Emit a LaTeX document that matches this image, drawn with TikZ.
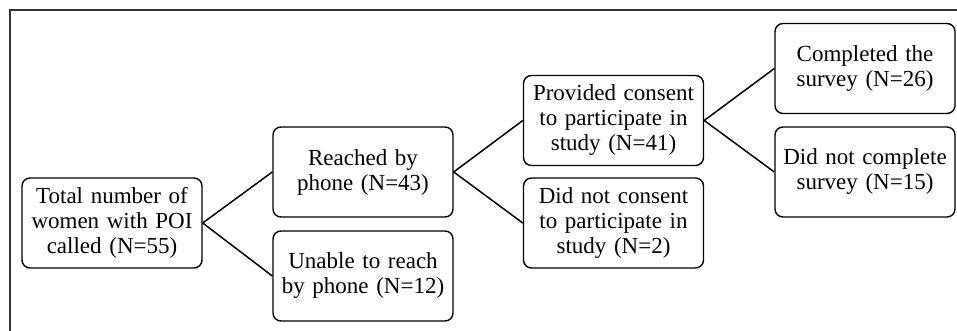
\documentclass[tikz,border=0pt]{standalone}
\usepackage{fontspec}
\setmainfont{Liberation Serif}
\begin{document}
\begin{tikzpicture}[x=1pt,y=1pt,
  flowbox/.style={draw=black,line width=1.4pt,rounded corners=8pt,
    minimum width=180pt,minimum height=90pt,inner sep=1pt,
    text width=178pt,align=center,font=\fontsize{23}{25}\selectfont},
  link/.style={draw=black,line width=1.5pt}]
\useasboundingbox (0,0) rectangle (957,-331);
\fill[white] (0,0) rectangle (957,-331);
\coordinate (fb) at (10,-331);
\coordinate (fc) at (10,-10);
\coordinate (fr) at (957,-10);
\draw[line width=1.2pt,draw=black!80] (fb) -- (fc) -- (fr);
\node[flowbox] (a) at (112,-223) {Total number of\\ women with POI\\ called (N=55)};
\node[flowbox] (b) at (363,-172) {Reached by\\ phone (N=43)};
\node[flowbox] (c) at (363,-276) {Unable to reach\\ by phone (N=12)};
\node[flowbox] (d) at (613.5,-120.5) {Provided consent\\ to participate in\\ study (N=41)};
\node[flowbox] (e) at (613.5,-223) {Did not consent\\ to participate in\\ study (N=2)};
\node[flowbox] (f) at (865,-68.5) {Completed the\\ survey (N=26)};
\node[flowbox] (g) at (865,-172) {Did not complete\\ survey (N=15)};
\draw[link] (a.east) -- (b.west);
\draw[link] (a.east) -- (c.west);
\draw[link] (b.east) -- (d.west);
\draw[link] (b.east) -- (e.west);
\draw[link] (d.east) -- (f.west);
\draw[link] (d.east) -- (g.west);
\end{tikzpicture}
\end{document}
